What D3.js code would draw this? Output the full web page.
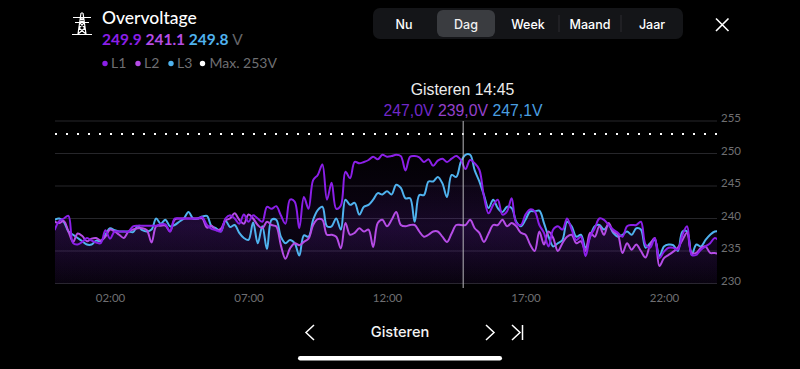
<!DOCTYPE html>
<html>
<head>
<meta charset="utf-8">
<script src="https://cdn.jsdelivr.net/npm/d3@7"></script>
<style>
  html, body { margin: 0; padding: 0; background: #000; overflow: hidden; }
  svg { display: block; }
  .lato { font-family: Lato, sans-serif; }
  .ui { font-family: Inter, "Noto Sans", sans-serif; }
  .thin { font-family: "Liberation Sans", sans-serif; }
  .axis path, .axis line { display: none; }
  .axis text { font-family: Lato, sans-serif; font-size: 11.5px; fill: #6f6f72; }
</style>
</head>
<body>
<div id="chart"></div>
<script>
// 10 minute readings
const l1 = [238.2,239.6,240,240.4,236.2,236,236.4,237,236.6,236.3,236.2,238.2,236.9,
  238,238,238,238,238.8,238.9,238.9,238.9,238.9,238.9,239.1,239.1,238,240,240,240,240,240,240,240.2,239,238.4,238.2,238,240,240.5,240,239.2,240.6,239.5,240.5,240,239.5,241.8,
  241.5,241.9,240.5,239.2,242.9,242.6,238.5,243.3,241.5,245.9,246.7,248.3,242.9,245.5,241.5,242,247.2,246.2,248.7,248.5,248.7,249,249.5,249.1,249.8,249.5,249.6,249.8,249.6,247.4,249.5,249.6,249.4,248.7,249.1,248.1,248.9,249.2,248.7,249.2,249.6,249,247.6,249,248.5,247.5,243.4,240.8,242.1,242.9,
  240.6,241.1,243.1,239.3,239,240.6,241.4,241.1,239,237.8,235.7,238.3,238.8,238.3,240,238.3,236.7,237.2,234.2,237.2,238.5,240,239.8,239,238.3,237.8,237.2,238.8,239,239,239.5,236,235.5,237,233.9,234.9,235.5,235.5,235.2,237.5,238.8,234.4,234.4,235.2,235.7,236.2,237,236.5];
const l2 = [239.5,239.3,239.6,238,236.4,237.7,237.3,236.5,236.9,237,236.6,237.2,238.3,
  238,237.5,237,238,238.3,238.5,238.5,238.2,236.3,238.8,238.9,238.9,238,239.8,240,240,240,240,240,240,238.6,238.9,238.2,238.4,239.7,240,240.8,239.8,239.2,240.6,240,239,238.5,239.5,
  239,238.8,235.9,233.8,235.4,236.2,235.9,236.4,236.9,239,239.9,239.8,237.5,237.5,237.2,235.4,239.3,237.5,237.8,238.5,238,238.3,235.6,239.3,239.8,238.8,239.8,241,239,238.8,239,239,238,237.2,237.5,238,238,237.2,236.4,237.7,239,239,239,239.8,238.5,237.8,236.4,237.7,239,239,
  239.8,238.8,239.3,238.8,237.8,237.5,236,235,238,236,238,237,235,236.2,237.2,237.5,236.2,236.5,235,237.8,237.2,238.8,237.5,239.3,238,237.5,234.7,236.2,235.2,236,235,234,236,237,232.7,233.9,234.4,234.9,235.5,236.7,237.8,234.7,234.7,235.5,235.7,234.7,234.7,234.5];
const l3 = [239.8,240,239.5,238,237.5,237,236.5,236,236,236.6,236.5,237.5,238.5,
  238.2,238,238,238,237.9,238.8,238.2,238,238.3,240,239.2,239.8,238.8,239,239.5,240,241,240,240,240.3,240.4,238.8,238.5,238,239.7,238.7,239,237.8,237,236.7,239.4,236.2,238.8,235.3,
  239.8,239.8,237.2,236.2,236.7,236.2,234.3,237.4,237.2,239.8,241.3,241.8,238.8,238.8,240,238.3,242.9,242.1,242.4,240.6,241.8,242.1,242.9,243.9,243.7,244.2,243.7,245.2,244.7,243.1,243.1,239.5,243.6,243.6,245.7,245.7,246.4,245.4,243.3,246.7,246.4,248.7,249.8,249.8,247.4,245.7,243.6,241.6,242.9,241.6,
  241,241.8,241.6,239.5,238.8,239.8,241.1,241.1,241.2,239.3,237.2,235.7,236.2,236.7,239.5,238.8,237.2,237.5,235.5,237.2,238.8,239,238.3,239,237.8,237.2,237.5,238,237.5,238.5,238.3,235.5,236.2,236.7,234.2,235.7,236,235.9,235,238,238,234.4,236,235.7,236.7,237.5,238,238];

const yTicks = [230, 235, 240, 245, 250, 255];
const xTicks = [2, 7, 12, 17, 22];
const xTickLabels = ["02:00", "07:00", "12:00", "17:00", "22:00"];
const maxVolt = 253;
const hoverHour = 14.75;
const tabs = ["Nu", "Dag", "Week", "Maand", "Jaar"];
const legendNames = ["L1", "L2", "L3"];
const headValues = ["249.9", "241.1", "249.8"];
const hoverValues = ["247,0V", "239,0V", "247,1V"];
const colors = ["#8b1fe8", "#b54ce6", "#4fb2ee"];

const width = 800, height = 369;
const svg = d3.select("#chart").append("svg").attr("width", width).attr("height", height);

const x = d3.scaleLinear().domain([0, 24]).range([54.6, 719.4]);
const y = d3.scaleLinear().domain([230, 255]).range([283.5, 121]);
const left = 55, right = 717;

const defs = svg.append("defs");
defs.append("clipPath").attr("id", "plot").append("rect")
  .attr("x", left).attr("y", 100).attr("width", right - left).attr("height", 184);
const grad = defs.append("linearGradient").attr("id", "under")
  .attr("gradientUnits", "userSpaceOnUse")
  .attr("x1", 0).attr("x2", 0).attr("y1", y(250)).attr("y2", y(230));
grad.append("stop").attr("offset", "0%").attr("stop-color", "#7a2ad0").attr("stop-opacity", 0.02);
grad.append("stop").attr("offset", "55%").attr("stop-color", "#7a2ad0").attr("stop-opacity", 0.095);
grad.append("stop").attr("offset", "100%").attr("stop-color", "#7a2ad0").attr("stop-opacity", 0.025);

// grid
svg.append("g").selectAll("line").data(yTicks).join("line")
  .attr("x1", left).attr("x2", right)
  .attr("y1", d => y(d)).attr("y2", d => y(d))
  .attr("stroke", "#26262a").attr("stroke-width", 1);

const area = d3.area().x((d, i) => x(i / 6)).y0(y(230)).y1(d => y(d)).curve(d3.curveCatmullRom);
const line = d3.line().x((d, i) => x(i / 6)).y(d => y(d)).curve(d3.curveCatmullRom);

const plot = svg.append("g").attr("clip-path", "url(#plot)");
[l3, l2, l1].forEach(s => {
  plot.append("path").attr("d", area(s)).attr("fill", "url(#under)");
});
[[l3, colors[2]], [l2, colors[1]], [l1, colors[0]]].forEach(([s, c]) => {
  plot.append("path").attr("d", line(s)).attr("fill", "none")
    .attr("stroke", c).attr("stroke-width", 2).attr("stroke-linejoin", "round");
});

// max line
svg.append("line")
  .attr("x1", left).attr("x2", right).attr("y1", y(maxVolt)).attr("y2", y(maxVolt))
  .attr("stroke", "#fff").attr("stroke-width", 2).attr("stroke-dasharray", "2 9");

// hover line
svg.append("line")
  .attr("x1", x(hoverHour)).attr("x2", x(hoverHour)).attr("y1", 121).attr("y2", 288)
  .attr("stroke", "#b8b8bc").attr("stroke-width", 1);

// axes
svg.append("g").attr("class", "axis")
  .attr("transform", "translate(721,-3)")
  .call(d3.axisRight(y).tickValues(yTicks).tickSize(0).tickPadding(0));
svg.append("g").attr("class", "axis")
  .attr("transform", "translate(0,291)")
  .call(d3.axisBottom(x).tickValues(xTicks).tickSize(0).tickPadding(3)
    .tickFormat((d, i) => xTickLabels[i]));

// pylon icon
const icon = svg.append("g").attr("fill", "none").attr("stroke", "#fff").attr("stroke-width", 1.2);
icon.append("path").attr("d", "M72 34.5H92 M73 17.5H91 M75 22.5H89 M81 13L78 34 M83 13L86 34 M81 13H83 M79.5 22.5L85 28L78 34 M84.5 22.5L79 28L86 34 M80.5 17.5L83.5 22.5 M83.5 17.5L80.5 22.5");

// header
svg.append("text").attr("class", "lato").attr("x", 102).attr("y", 24)
  .attr("font-size", 17.5).attr("font-weight", 500).attr("fill", "#fff").text("Overvoltage");

const head = svg.append("text").attr("class", "lato").attr("x", 102).attr("y", 45)
  .attr("font-size", 15.5).attr("font-weight", 700);
headValues.forEach((v, i) => {
  head.append("tspan").attr("fill", colors[i]).text(v + " ");
});
head.append("tspan").attr("fill", "#666669").attr("font-weight", 400).text("V");

// legend
const legendX = [105, 138, 171, 202.5];
legendNames.forEach((n, i) => {
  svg.append("circle").attr("cx", legendX[i]).attr("cy", 63.5).attr("r", 2.7).attr("fill", colors[i]);
  svg.append("text").attr("class", "lato").attr("x", legendX[i] + 6).attr("y", 68)
    .attr("font-size", 14).attr("fill", "#6f6f72").text(n);
});
svg.append("circle").attr("cx", legendX[3]).attr("cy", 63.5).attr("r", 2.7).attr("fill", "#fff");
svg.append("text").attr("class", "lato").attr("x", legendX[3] + 7).attr("y", 68)
  .attr("font-size", 14).attr("fill", "#6f6f72").text("Max. 253V");

// tabs
svg.append("rect").attr("x", 373).attr("y", 8).attr("width", 310).attr("height", 31).attr("rx", 7).attr("fill", "#141518");
svg.append("rect").attr("x", 437).attr("y", 10).attr("width", 58).attr("height", 27).attr("rx", 6).attr("fill", "#3a3c40");
const tabX = [404, 466, 528, 590, 652];
tabs.forEach((t, i) => {
  svg.append("text").attr("class", "ui").attr("x", tabX[i]).attr("y", 28.5)
    .attr("text-anchor", "middle").attr("font-size", 12.5).attr("font-weight", 500)
    .attr("fill", i === 1 ? "#f0f0f0" : "#fff").text(t);
});
[559, 621].forEach(d => {
  svg.append("line").attr("x1", d).attr("x2", d).attr("y1", 15).attr("y2", 32).attr("stroke", "#2c2d30");
});

// close
svg.append("path").attr("d", "M716 18.5L728.5 31 M728.5 18.5L716 31")
  .attr("stroke", "#fff").attr("stroke-width", 1.6).attr("fill", "none");

// hover readout
svg.append("text").attr("class", "thin").attr("x", 462.5).attr("y", 95)
  .attr("text-anchor", "middle").attr("font-size", 15.8).attr("fill", "#ececec").text("Gisteren 14:45");
const hover = svg.append("text").attr("class", "thin").attr("x", 463).attr("y", 116)
  .attr("text-anchor", "middle").attr("font-size", 15.8);
hoverValues.forEach((v, i) => {
  hover.append("tspan").attr("fill", ["#7028c8", "#9440cc", "#4a9fe0"][i]).text(v + (i < 2 ? " " : ""));
});

// bottom nav
svg.append("text").attr("class", "ui").attr("x", 400).attr("y", 337)
  .attr("text-anchor", "middle").attr("font-size", 14.6).attr("font-weight", 500).attr("fill", "#f4f4f4").text("Gisteren");
svg.append("path")
  .attr("d", "M314 325L306 332.5L314 340 M486 325L494 332.5L486 340 M512 325L520 332.5L512 340 M522.5 325V340")
  .attr("fill", "none").attr("stroke", "#fff").attr("stroke-width", 1.5);
svg.append("rect").attr("x", 298).attr("y", 356).attr("width", 204).attr("height", 4.5).attr("rx", 2.25).attr("fill", "#fff");
</script>
</body>
</html>
